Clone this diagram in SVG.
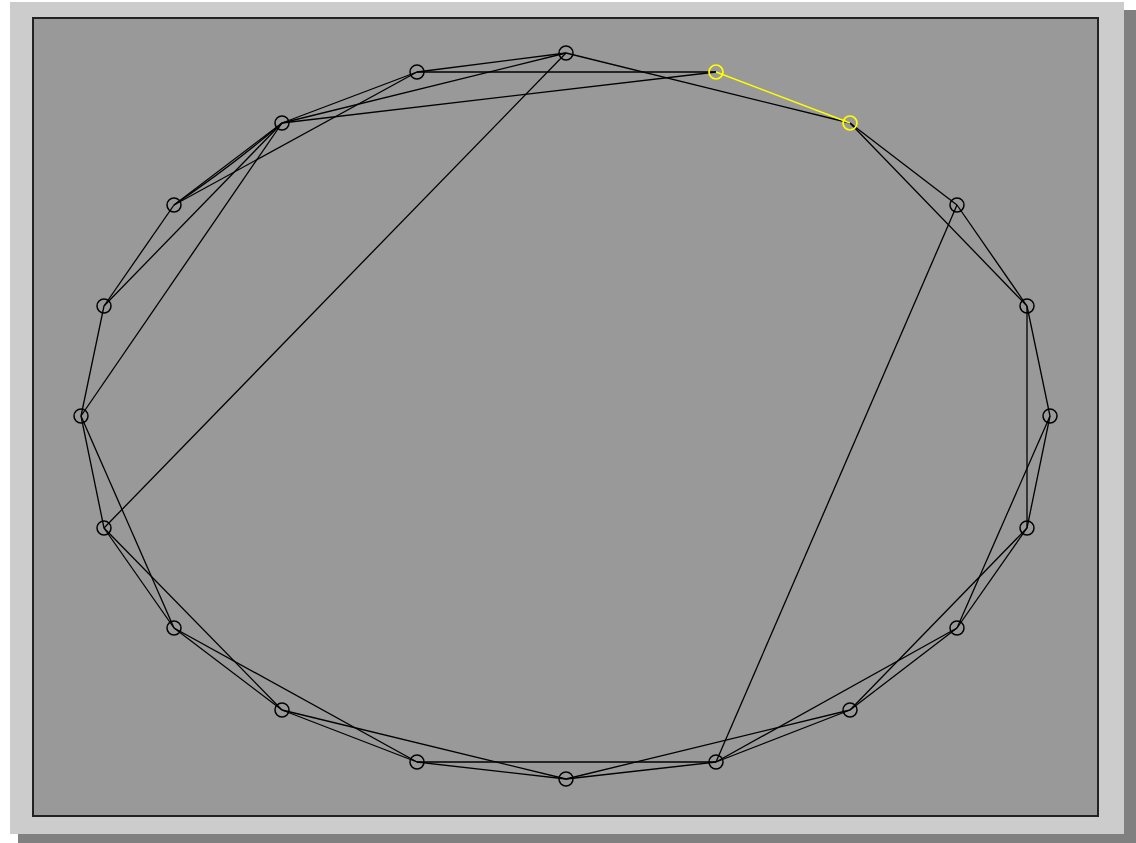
<svg xmlns="http://www.w3.org/2000/svg" width="1136" height="843" viewBox="0 0 1136 843">
<style>
.e{stroke:#000;stroke-width:1.3;fill:none}
.ey{stroke:#ffff00;stroke-width:1.4;fill:none}
.n{fill:none;stroke:#000;stroke-width:1.5}
.ny{fill:none;stroke:#ffff00;stroke-width:1.7}
</style>
<rect x="0" y="0" width="1136" height="843" fill="#ffffff"/>
<rect x="18" y="10" width="1118" height="833" fill="#808080"/>
<rect x="10" y="2" width="1114" height="832" fill="#cccccc"/>
<rect x="33" y="18" width="1065" height="798" fill="#999999" stroke="#222222" stroke-width="2"/>
<g id="edges">
<line class="e" x1="566" y1="53" x2="850" y2="123"/>
<line class="e" x1="417" y1="72" x2="716" y2="72" stroke-width="2.2"/>
<line class="e" x1="282" y1="123" x2="716" y2="72"/>
<line class="e" x1="417" y1="72" x2="566" y2="53"/>
<line class="e" x1="282" y1="123" x2="566" y2="53"/>
<line class="e" x1="282" y1="123" x2="417" y2="72"/>
<line class="e" x1="174" y1="205" x2="417" y2="72"/>
<line class="e" x1="566" y1="53" x2="104" y2="528"/>
<line class="e" x1="282" y1="123" x2="81" y2="416"/>
<line class="e" x1="282" y1="123" x2="104" y2="306"/>
<line class="e" x1="174" y1="205" x2="104" y2="306"/>
<line class="e" x1="282" y1="123" x2="174" y2="205"/>
<path class="e" d="M282,123 Q232,166 174,205"/>
<line class="e" x1="104" y1="306" x2="81" y2="416"/>
<line class="e" x1="81" y1="416" x2="104" y2="528"/>
<line class="e" x1="81" y1="416" x2="174" y2="628"/>
<line class="e" x1="104" y1="528" x2="174" y2="628"/>
<line class="e" x1="104" y1="528" x2="282" y2="710"/>
<line class="e" x1="174" y1="628" x2="282" y2="710"/>
<line class="e" x1="174" y1="628" x2="417" y2="762"/>
<line class="e" x1="282" y1="710" x2="417" y2="762"/>
<line class="e" x1="282" y1="710" x2="566" y2="779"/>
<line class="e" x1="417" y1="762" x2="716" y2="762" stroke-width="1.6"/>
<line class="e" x1="417" y1="762" x2="566" y2="779"/>
<line class="e" x1="566" y1="779" x2="716" y2="762"/>
<line class="e" x1="566" y1="779" x2="850" y2="710"/>
<line class="e" x1="716" y1="762" x2="850" y2="710"/>
<line class="e" x1="716" y1="762" x2="957" y2="628"/>
<line class="e" x1="716" y1="762" x2="957" y2="205"/>
<line class="e" x1="850" y1="710" x2="957" y2="628"/>
<line class="e" x1="850" y1="710" x2="1027" y2="528"/>
<line class="e" x1="957" y1="628" x2="1027" y2="528"/>
<line class="e" x1="957" y1="628" x2="1050" y2="416"/>
<line class="e" x1="1027" y1="528" x2="1050" y2="416"/>
<line class="e" x1="1027" y1="306" x2="1027" y2="528"/>
<line class="e" x1="1027" y1="306" x2="1050" y2="416"/>
<line class="e" x1="957" y1="205" x2="1027" y2="306"/>
<line class="e" x1="850" y1="123" x2="957" y2="205"/>
<line class="e" x1="850" y1="123" x2="1027" y2="306"/>
<line class="ey" x1="716" y1="72" x2="850" y2="123"/>
</g>
<g id="n0"><circle class="n" cx="566" cy="53" r="7"/></g>
<g id="n1"><circle class="ny" cx="716" cy="72" r="7"/></g>
<g id="n2"><circle class="ny" cx="850" cy="123" r="7"/></g>
<g id="n3"><circle class="n" cx="957" cy="205" r="7"/></g>
<g id="n4"><circle class="n" cx="1027" cy="306" r="7"/></g>
<g id="n5"><circle class="n" cx="1050" cy="416" r="7"/></g>
<g id="n6"><circle class="n" cx="1027" cy="528" r="7"/></g>
<g id="n7"><circle class="n" cx="957" cy="628" r="7"/></g>
<g id="n8"><circle class="n" cx="850" cy="710" r="7"/></g>
<g id="n9"><circle class="n" cx="716" cy="762" r="7"/></g>
<g id="n10"><circle class="n" cx="566" cy="779" r="7"/></g>
<g id="n11"><circle class="n" cx="417" cy="762" r="7"/></g>
<g id="n12"><circle class="n" cx="282" cy="710" r="7"/></g>
<g id="n13"><circle class="n" cx="174" cy="628" r="7"/></g>
<g id="n14"><circle class="n" cx="104" cy="528" r="7"/></g>
<g id="n15"><circle class="n" cx="81" cy="416" r="7"/></g>
<g id="n16"><circle class="n" cx="104" cy="306" r="7"/></g>
<g id="n17"><circle class="n" cx="174" cy="205" r="7"/></g>
<g id="n18"><circle class="n" cx="282" cy="123" r="7"/></g>
<g id="n19"><circle class="n" cx="417" cy="72" r="7"/></g>
</svg>
